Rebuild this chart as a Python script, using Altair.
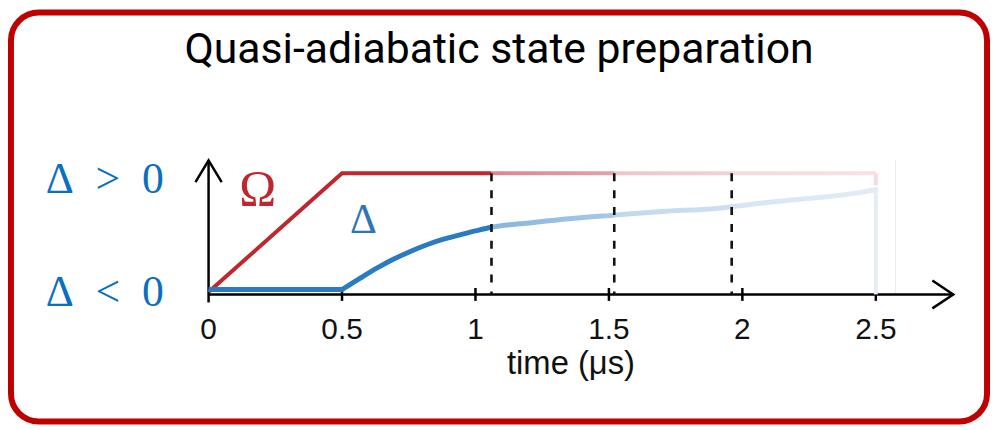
import altair as alt
import pandas as pd

# ---------------- data ----------------
title_text = "Quasi-adiabatic state preparation"
x_title = "time (μs)"

omega_t = [0.0, 0.5, 2.5]
omega_v = [0.02, 1.0, 1.0]
omega_end_v = 0.9

delta_t = [0.0, 0.5, 0.57, 0.632, 0.694, 0.756, 0.818, 0.88, 0.942, 1.004,
           1.06, 1.2, 1.35, 1.52, 1.7, 1.9, 2.083, 2.207, 2.331, 2.455, 2.5]
delta_v = [0.04, 0.04, 0.137, 0.219, 0.292, 0.355, 0.41, 0.456, 0.492, 0.527,
           0.555, 0.59, 0.625, 0.655, 0.685, 0.71, 0.757, 0.784, 0.81, 0.847,
           0.866]
ramp_start = 0.5

checkpoints = [1.06, 1.52, 1.96]
tick_values = [0, 0.5, 1, 1.5, 2, 2.5]
tick_labels = ["0", "0.5", "1", "1.5", "2", "2.5"]
x_axis_end = 2.79
y_axis_low = -0.066
y_axis_end = 1.107
box_edge_t = 2.574

level_values = [1.0, 0.0]
level_labels = ["Δ\u2002>\u20020", "Δ\u2002<\u20020"]
T_END = 2.5

# ---------------- layout ----------------
W, H = 983, 412
x_scale = alt.Scale(domain=[0, T_END], range=[199, 871], nice=False, zero=False)
y_scale = alt.Scale(domain=[0, 1], range=[284, 162], nice=False, zero=False)

RED = "#c0272d"
BLUE = "#2b7bc3"
TXT_BLUE = "#0b6fbf"


def X(f="t"):
    return alt.X(f + ":Q", scale=x_scale, axis=None)


def Y(f="v"):
    return alt.Y(f + ":Q", scale=y_scale, axis=None)


def grad(colors, t0):
    fr = [(c - t0) / (T_END - t0) for c in checkpoints]
    offs = [0, fr[0], fr[0], fr[1], fr[1], fr[2], fr[2], 1]
    return alt.LinearGradient(
        gradient="linear", x1=0, x2=1, y1=0, y2=0,
        stops=[alt.GradientStop(offset=o, color=c) for o, c in zip(offs, colors)])


omega_grad = grad([RED, RED, "#d9868d", "#e3a3a9", "#eec5c9", "#f2d1d4",
                   "#f5dadd", "#f7e1e3"], 0.0)
delta_grad = grad([BLUE, BLUE, "#86b5df", "#a9c9e7", "#c0d8ee", "#cee0f2",
                   "#d6e5f4", "#e1ecf6"], ramp_start)

df_omega = pd.DataFrame({"t": omega_t, "v": omega_v})
df_delta_all = pd.DataFrame({"t": delta_t, "v": delta_v})
df_delta_flat = df_delta_all[df_delta_all.t <= ramp_start]
df_delta = df_delta_all[df_delta_all.t >= ramp_start]
df_omega_drop = pd.DataFrame({"t": [omega_t[-1]], "v": [omega_v[-1]],
                              "v2": [omega_end_v]})
df_delta_drop = pd.DataFrame({"t": [delta_t[-1]], "v": [delta_v[-1]],
                              "v2": [0.0]})
df_dash = pd.DataFrame({"t": checkpoints, "v": [1.0] * len(checkpoints),
                        "v2": [0.0] * len(checkpoints)})
df_ticks = pd.DataFrame({"t": tick_values, "lab": tick_labels,
                         "v": [0.0] * len(tick_values)})
df_xaxis = pd.DataFrame({"t": [0.0], "t2": [x_axis_end], "v": [0.0]})
df_yaxis = pd.DataFrame({"t": [0.0], "v": [y_axis_low], "v2": [y_axis_end]})
df_box = pd.DataFrame({"t": [box_edge_t], "v": [0.0], "v2": [y_axis_end]})
df_xarrow = pd.DataFrame({"t": [x_axis_end], "v": [0.0]})
df_yarrow = pd.DataFrame({"t": [0.0], "v": [y_axis_end]})
df_levels = pd.DataFrame({"t": [0.0, 0.0], "v": level_values, "lab": level_labels})
df_omega_lab = pd.DataFrame({"t": [0.0], "v": [1.0], "lab": ["Ω"]})
df_delta_lab = pd.DataFrame({"t": [0.5], "v": [1.0], "lab": ["Δ"]})
df_title = pd.DataFrame({"lab": [title_text]})
df_xtitle = pd.DataFrame({"lab": [x_title]})

box = alt.Chart(df_box).mark_rule(color="#ebebeb", strokeWidth=1).encode(
    x=X(), y=Y(), y2="v2:Q")
xaxis = alt.Chart(df_xaxis).mark_rule(color="black", strokeWidth=2.5).encode(
    x=X(), x2="t2:Q", y=Y())
yaxis = alt.Chart(df_yaxis).mark_rule(color="black", strokeWidth=2.5).encode(
    x=X(), y=Y(), y2="v2:Q")
ticks = alt.Chart(df_ticks[df_ticks.t > 0]).mark_tick(
    color="black", orient="vertical", size=13, thickness=2.5, opacity=1).encode(
    x=X(), y=Y())
tick_text = alt.Chart(df_ticks).mark_text(
    font="Liberation Sans", fontSize=30, color="#111111", baseline="alphabetic",
    align="center", dy=45).encode(x=X(), y=Y(), text="lab:N")

omega_drop = alt.Chart(df_omega_drop).mark_rule(
    color="#f5dadd", strokeWidth=4).encode(x=X(), y=Y(), y2="v2:Q")
delta_drop = alt.Chart(df_delta_drop).mark_rule(
    color="#e4edf7", strokeWidth=4).encode(x=X(), y=Y(), y2="v2:Q")
omega = alt.Chart(df_omega).mark_line(
    stroke=omega_grad, strokeWidth=4, strokeJoin="miter").encode(
    x=X(), y=Y())
delta_flat = alt.Chart(df_delta_flat).mark_line(
    color=BLUE, strokeWidth=5, strokeCap="butt").encode(x=X(), y=Y())
delta = alt.Chart(df_delta).mark_line(
    stroke=delta_grad, strokeWidth=5, strokeJoin="round", strokeCap="round",
    interpolate="monotone").encode(x=X(), y=Y())

dashes = alt.Chart(df_dash).mark_rule(
    color="#111111", strokeWidth=2.6, strokeDash=[8, 9]).encode(
    x=X(), y=Y(), y2="v2:Q")

xarrow = alt.Chart(df_xarrow).mark_point(
    shape="M-1,-0.667L0,0L-1,0.667", size=1764, filled=False, stroke="black",
    strokeWidth=2.5, opacity=1, strokeJoin="miter").encode(x=X(), y=Y())
yarrow = alt.Chart(df_yarrow).mark_point(
    shape="M-0.6,1L0,0L0.6,1", size=1936, filled=False, stroke="black",
    strokeWidth=2.5, opacity=1, strokeJoin="miter").encode(x=X(), y=Y())

lvl_top = alt.Chart(df_levels[df_levels.v > 0.5]).mark_text(
    font="Liberation Serif", fontSize=44, color=TXT_BLUE, align="right",
    baseline="alphabetic", dx=-45, dy=20).encode(x=X(), y=Y(), text="lab:N")
lvl_bot = alt.Chart(df_levels[df_levels.v < 0.5]).mark_text(
    font="Liberation Serif", fontSize=44, color=TXT_BLUE, align="right",
    baseline="alphabetic", dx=-45, dy=12).encode(x=X(), y=Y(), text="lab:N")
omega_lab = alt.Chart(df_omega_lab).mark_text(
    font="Liberation Serif", fontSize=50, color=RED, align="left",
    baseline="alphabetic", dx=31, dy=32).encode(x=X(), y=Y(), text="lab:N")
delta_lab = alt.Chart(df_delta_lab).mark_text(
    font="Liberation Serif", fontSize=42, color="#2e75b6", align="left",
    baseline="alphabetic", dx=8, dy=60).encode(x=X(), y=Y(), text="lab:N")

title = alt.Chart(df_title).mark_text(
    font="Roboto", fontSize=43, fontWeight=400, color="black", align="center",
    baseline="alphabetic").encode(
    x=alt.value(W / 2), y=alt.value(51), text="lab:N")
xtitle = alt.Chart(df_xtitle).mark_text(
    font="Liberation Sans", fontSize=33, color="#111111", align="center",
    baseline="alphabetic").encode(
    x=alt.value(564), y=alt.value(364), text="lab:N")

chart = alt.layer(
    box, xaxis, yaxis, ticks, tick_text, omega_drop, delta_drop, omega,
    delta_flat, delta, dashes, xarrow, yarrow, lvl_top, lvl_bot, omega_lab,
    delta_lab, title, xtitle
).properties(
    width=W, height=H, autosize="none",
    padding={"left": 3, "top": 3, "right": 3, "bottom": 3},
    background="white",
).configure_view(
    stroke="#c00000", strokeWidth=6, cornerRadius=28, fill="white"
)

chart.save("out.html", embed_options={"renderer": "svg", "actions": False})
